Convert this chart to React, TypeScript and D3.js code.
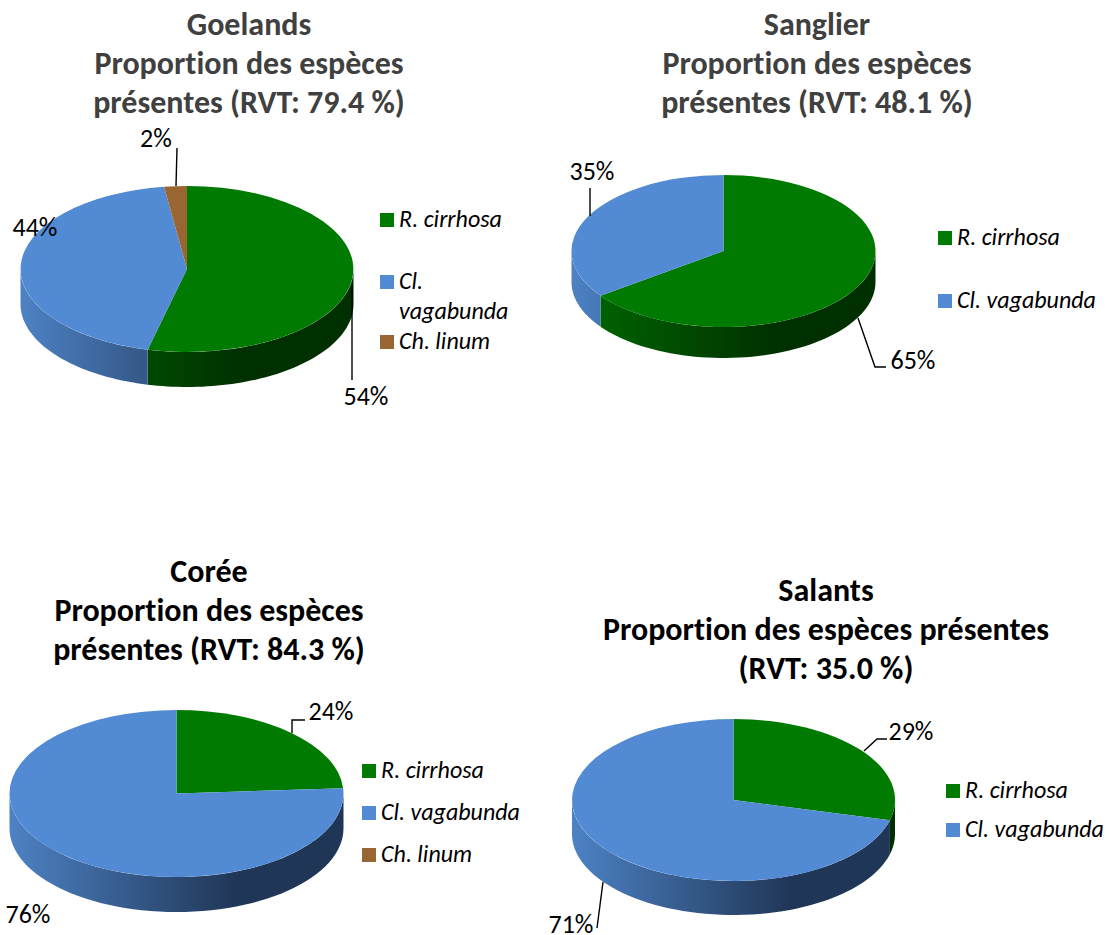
import React from "react";
import * as d3 from "d3";

const speciesNames = ["R. cirrhosa", "Cl. vagabunda", "Ch. linum"];
const speciesColors = ["#007a00", "#528bd4", "#996633"];
const sideLight = ["#006a00", "#4d82c4", "#80552b"];
const sideDark = ["#002f00", "#203657", "#4a3018"];

const goelandsValues = [53.8, 44, 2.2];
const sanglierValues = [65, 35];
const coreeValues = [24, 76, 0];
const salantsValues = [29, 71];

const goelandsTitle = ["Goelands", "Proportion des espèces", "présentes (RVT: 79.4 %)"];
const sanglierTitle = ["Sanglier", "Proportion des espèces", "présentes (RVT: 48.1 %)"];
const coreeTitle = ["Corée", "Proportion des espèces", "présentes (RVT: 84.3 %)"];
const salantsTitle = ["Salants", "Proportion des espèces présentes", "(RVT: 35.0 %)"];

interface Panel {
  id: string; values: number[]; title: string[]; titleX: number; titleY: number; titleColor: string;
  cx: number; cy: number; rx: number; ry: number; depth: number;
  legend: { idx: number; lines: string[]; y: number }[]; legendX: number;
  labels: { text: string; x: number; y: number }[];
  leaders: [number, number][][];
}

const panels: Panel[] = [
  {
    id: "g", values: goelandsValues, title: goelandsTitle, titleX: 249, titleY: 35, titleColor: "#404040",
    cx: 187, cy: 269, rx: 166.5, ry: 83, depth: 35,
    legendX: 380,
    legend: [
      { idx: 0, lines: [speciesNames[0]], y: 221 },
      { idx: 1, lines: ["Cl.", "vagabunda"], y: 283 },
      { idx: 2, lines: [speciesNames[2]], y: 343 },
    ],
    labels: [
      { text: "2%", x: 156, y: 147 },
      { text: "44%", x: 35, y: 236 },
      { text: "54%", x: 366, y: 405 },
    ],
    leaders: [
      [[177, 148], [176, 186]],
      [[352, 285], [352, 380]],
    ],
  },
  {
    id: "s", values: sanglierValues, title: sanglierTitle, titleX: 817, titleY: 35, titleColor: "#404040",
    cx: 723.5, cy: 251, rx: 152, ry: 76, depth: 31,
    legendX: 938,
    legend: [
      { idx: 0, lines: [speciesNames[0]], y: 239 },
      { idx: 1, lines: [speciesNames[1]], y: 302 },
    ],
    labels: [
      { text: "35%", x: 592, y: 180 },
      { text: "65%", x: 913, y: 369 },
    ],
    leaders: [
      [[590, 188], [590, 216]],
      [[858, 318], [875, 367], [886, 367]],
    ],
  },
  {
    id: "c", values: coreeValues, title: coreeTitle, titleX: 209, titleY: 582, titleColor: "#000000",
    cx: 176.5, cy: 793.5, rx: 167, ry: 83.5, depth: 35,
    legendX: 362,
    legend: [
      { idx: 0, lines: [speciesNames[0]], y: 772 },
      { idx: 1, lines: [speciesNames[1]], y: 814 },
      { idx: 2, lines: [speciesNames[2]], y: 856 },
    ],
    labels: [
      { text: "24%", x: 331, y: 720 },
      { text: "76%", x: 28, y: 923 },
    ],
    leaders: [[[292, 733], [292, 720], [305, 720]]],
  },
  {
    id: "a", values: salantsValues, title: salantsTitle, titleX: 826, titleY: 601, titleColor: "#000000",
    cx: 733.5, cy: 800, rx: 161.5, ry: 81, depth: 34,
    legendX: 946,
    legend: [
      { idx: 0, lines: [speciesNames[0]], y: 792 },
      { idx: 1, lines: [speciesNames[1]], y: 831 },
    ],
    labels: [
      { text: "29%", x: 911, y: 740 },
      { text: "71%", x: 571, y: 933 },
    ],
    leaders: [
      [[864, 751], [877, 739], [887, 739]],
      [[603, 882], [597, 928]],
    ],
  },
];

const font = "Carlito, 'Open Sans', 'Noto Sans', sans-serif";
const noLig = { fontVariantLigatures: "none" } as React.CSSProperties;

function PiePanel({ p }: { p: Panel }) {
  const arcs = d3.pie<number>().sort(null)(p.values).filter((a) => a.value > 0);
  const arcGen = d3.arc<d3.PieArcDatum<number>>().innerRadius(0).outerRadius(1);
  const xAt = (t: number) => p.rx * Math.sin(t);
  const yAt = (t: number) => -p.ry * Math.cos(t);
  const lineGen = d3.line();

  const sides = arcs.flatMap((a) => {
    const lo = Math.max(a.startAngle, Math.PI / 2);
    const hi = Math.min(a.endAngle, (3 * Math.PI) / 2);
    if (hi <= lo) return [];
    const ts = d3.range(0, 61).map((i) => lo + ((hi - lo) * i) / 60);
    const top = ts.map((t) => [p.cx + xAt(t), p.cy + yAt(t)] as [number, number]);
    const bot = ts.slice().reverse().map((t) => [p.cx + xAt(t), p.cy + yAt(t) + p.depth] as [number, number]);
    return [{ idx: a.index, d: lineGen([...top, ...bot])! + "Z" }];
  });

  return (
    <g>
      <defs>
        {speciesColors.map((_, i) => (
          <linearGradient key={i} id={`${p.id}-side-${i}`} gradientUnits="userSpaceOnUse"
            x1={p.cx - p.rx} x2={p.cx + p.rx} y1={0} y2={0}>
            <stop offset="0" stopColor={sideLight[i]} />
            <stop offset="0.68" stopColor={sideDark[i]} />
            <stop offset="1" stopColor={sideDark[i]} />
          </linearGradient>
        ))}
      </defs>
      {sides.map((s) => (
        <path key={s.idx} d={s.d} fill={`url(#${p.id}-side-${s.idx})`} />
      ))}
      {arcs.map((a) => (
        <path key={a.index} d={arcGen(a)!} fill={speciesColors[a.index]}
          transform={`translate(${p.cx},${p.cy}) scale(${p.rx},${p.ry})`} />
      ))}
      {p.leaders.map((l, i) => (
        <path key={i} d={lineGen(l as [number, number][])!} fill="none" stroke="#000" strokeWidth={1.4} />
      ))}
      {p.labels.map((l) => (
        <text key={l.text} x={l.x} y={l.y} textAnchor="middle" fontFamily={font} fontSize={26} fill="#000" style={noLig}>{l.text}</text>
      ))}
      {p.title.map((t, i) => (
        <text key={i} x={p.titleX} y={p.titleY + i * 39} textAnchor="middle" fontFamily={font}
          fontWeight={700} fontSize={32} fill={p.titleColor} style={noLig}>{t}</text>
      ))}
      {p.legend.map((e) => (
        <g key={e.idx}>
          <rect x={p.legendX} y={e.y - 8} width={14} height={14} fill={speciesColors[e.idx]} />
          {e.lines.map((ln, i) => (
            <text key={i} x={p.legendX + 19} y={e.y + 6 + i * 30} fontFamily={font} fontStyle="italic" fontSize={24} fill="#000" style={noLig}>{ln}</text>
          ))}
        </g>
      ))}
    </g>
  );
}

export default function App() {
  return (
    <svg width={1109} height={935} style={{ position: "absolute", left: 0, top: 0, background: "#fff" }}>
      {panels.map((p) => <PiePanel key={p.id} p={p} />)}
    </svg>
  );
}
